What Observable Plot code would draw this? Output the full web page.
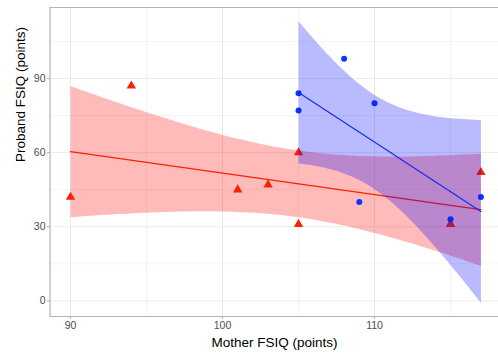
<!DOCTYPE html>
<html>
<head>
<meta charset="utf-8">
<script src="https://cdn.jsdelivr.net/npm/d3@7"></script>
<script src="https://cdn.jsdelivr.net/npm/@observablehq/plot@0.6"></script>
<style>
  html, body { margin: 0; padding: 0; background: #fff; overflow: hidden; }
  #chart svg { overflow: hidden; display: block; }
</style>
</head>
<body>
<div id="chart"></div>
<script>
// Group 1 (red triangles)
const motherRed  = [90, 94, 101, 103, 105, 105, 115, 115, 117];
const probandRed = [42, 87, 45, 47, 31, 60, 31, 31, 52];
// Group 2 (blue circles)
const motherBlue  = [105, 105, 108, 110, 109, 115, 117];
const probandBlue = [84, 77, 98, 80, 40, 33, 42];

const xTicks = [90, 100, 110];
const yTicks = [0, 30, 60, 90];
const xMinor = [95, 105, 115];
const yMinor = [15, 45, 75, 105];

const xLabel = "Mother FSIQ (points)";
const yLabel = "Proband FSIQ (points)";

const red = motherRed.map((m, i) => ({mother: m, proband: probandRed[i]}));
const blue = motherBlue.map((m, i) => ({mother: m, proband: probandBlue[i]}));

const allX = motherRed.concat(motherBlue);
const [x0, x1] = d3.extent(allX);
const xPad = (x1 - x0) * 0.05;
const xDomain = [x0 - xPad, x1 + xPad];
const yDomain = [-6.3, 118.7];

const W = 498, H = 354;
const mL = 50, mT = 7, mB = 38;
const xRange = [49.5, 49.5 + (xDomain[1] - xDomain[0]) * 15.2];

const redCol = "#FA2100";
const blueCol = "#0A37FF";

const chart = Plot.plot({
  width: W,
  height: H,
  marginLeft: mL,
  marginRight: 0,
  marginTop: mT,
  marginBottom: mB,
  style: {fontFamily: "'Liberation Sans', Arial, Helvetica, sans-serif", background: "#fff"},
  x: {domain: xDomain, range: xRange},
  y: {domain: yDomain, range: [H - mB, mT]},
  marks: [
    Plot.ruleX(xMinor, {stroke: "#F4F4F4", strokeWidth: 1}),
    Plot.ruleY(yMinor, {stroke: "#F4F4F4", strokeWidth: 1}),
    Plot.ruleX(xTicks, {stroke: "#EBEBEB", strokeWidth: 1}),
    Plot.ruleY(yTicks, {stroke: "#EBEBEB", strokeWidth: 1}),
    Plot.linearRegressionY(red, {x: "mother", y: "proband", stroke: redCol, strokeWidth: 1.2, fill: "#FF0000", fillOpacity: 0.27, ci: 0.95}),
    Plot.dot(red, {x: "mother", y: "proband", symbol: "triangle", r: 3.5, fill: redCol, stroke: "none"}),
    Plot.dot(blue, {x: "mother", y: "proband", symbol: "circle", r: 3, fill: blueCol, stroke: "none"}),
    Plot.linearRegressionY(blue, {x: "mother", y: "proband", stroke: "#1030F0", strokeWidth: 1.2, fill: "#0000FF", fillOpacity: 0.27, ci: 0.95}),
    Plot.ruleY([yDomain[0], yDomain[1]], {x1: xDomain[0], x2: xDomain[1], stroke: "#B3B3B3", strokeWidth: 1.2}),
    Plot.ruleX([xDomain[0], xDomain[1]], {y1: yDomain[0], y2: yDomain[1], stroke: "#B3B3B3", strokeWidth: 1.2}),
    Plot.axisX({ticks: xTicks, tickSize: 3, tickPadding: 2, fontSize: 10.5, color: "#4D4D4D", stroke: "#B3B3B3", label: null}),
    Plot.axisY({ticks: yTicks, tickSize: 3, tickPadding: 2, fontSize: 10.5, color: "#4D4D4D", stroke: "#B3B3B3", label: null}),
    Plot.text([xLabel], {frameAnchor: "bottom", dy: 26, fontSize: 13.5, fill: "#000", lineAnchor: "middle"}),
    Plot.text([yLabel], {frameAnchor: "left", dx: -30, rotate: -90, fontSize: 13.5, fill: "#000", lineAnchor: "middle"})
  ]
});
document.getElementById("chart").appendChild(chart);
</script>
</body>
</html>
